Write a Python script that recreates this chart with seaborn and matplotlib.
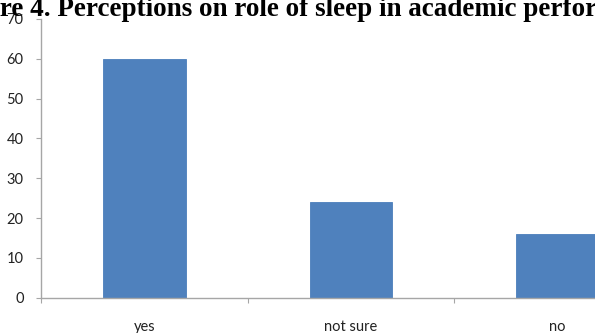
import matplotlib
matplotlib.use("Agg")
import matplotlib.pyplot as plt
import seaborn as sns
import pandas as pd

categories = ["yes", "not sure", "no"]
values = [60, 24, 16]
y_ticks = [0, 10, 20, 30, 40, 50, 60, 70]
title = "Figure 4. Perceptions on role of sleep in academic performance"

sns.set_theme(style="white")
plt.rcParams["font.family"] = ["Lato", "DejaVu Sans"]

W, H = 595, 333
fig = plt.figure(figsize=(W / 100, H / 100), dpi=100)

# axes box in pixel units (the plot runs past the right edge of the figure)
left_px, right_px, top_px, bottom_px = 41, 661, 19, 297.7
ax = fig.add_axes([left_px / W, 1 - bottom_px / H,
                   (right_px - left_px) / W, (bottom_px - top_px) / H])

df = pd.DataFrame({"category": categories, "value": values})
sns.barplot(data=df, x="category", y="value", ax=ax, color="#4F81BD",
            width=0.4, saturation=1, edgecolor="#4A7EBB", linewidth=0.6)

ax.set_xlim(-0.5, len(categories) - 0.5)
ax.set_ylim(0, 70)
ax.set_yticks(y_ticks)
ax.set_xlabel("")
ax.set_ylabel("")

for side in ("top", "right"):
    ax.spines[side].set_visible(False)
for side in ("left", "bottom"):
    ax.spines[side].set_color("#a6a6a6")
    ax.spines[side].set_linewidth(1.0)

ax.tick_params(axis="y", which="major", direction="out", length=3.5,
               width=0.8, color="#a6a6a6", labelsize=10.5, pad=9,
               labelcolor="#222222", left=True)
ax.tick_params(axis="x", which="major", length=0, labelsize=10.5, pad=16,
               labelcolor="#222222")
ax.set_xticks([i - 0.5 for i in range(len(categories) + 1)], minor=True)
ax.tick_params(axis="x", which="minor", direction="out", length=3.5,
               width=0.8, color="#a6a6a6", bottom=True)

# title: the caption starts before the left edge of the figure
title_font = dict(fontsize=19.5, fontweight="bold", family="Liberation Serif")
renderer = fig.canvas.get_renderer()
probe = fig.text(0, 0, "Figu", **title_font)
lead_px = probe.get_window_extent(renderer).width
probe.remove()
fig.text(-lead_px / W, 1 - 16 / H, title, ha="left", va="baseline",
         color="black", **title_font)

fig.savefig("out.png", dpi=100)
